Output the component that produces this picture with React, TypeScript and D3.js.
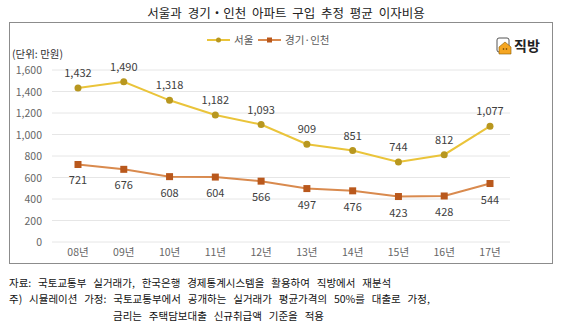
import React from "react";
import * as d3 from "d3";

const categories = ["08년", "09년", "10년", "11년", "12년", "13년", "14년", "15년", "16년", "17년"];
const seoul = [1432, 1490, 1318, 1182, 1093, 909, 851, 744, 812, 1077];
const gyeonggi = [721, 676, 608, 604, 566, 497, 476, 423, 428, 544];
const yTicks = [0, 200, 400, 600, 800, 1000, 1200, 1400, 1600];
const seriesNames = ["서울", "경기·인천"];

const FONT = "'Noto Sans CJK KR', 'Noto Sans', sans-serif";

export default function App() {
  const W = 567, H = 330;
  const x = d3.scalePoint<string>().domain(categories).range([78, 490]);
  const y = d3.scaleLinear().domain([0, 1600]).range([242, 70]);
  const line = d3.line<number>().x((_, i) => x(categories[i])!).y((d) => y(d));
  const fmt = d3.format(",");
  const seoulLine = "#EAC43A";
  const seoulMark = "#B8971F";
  const ggLine = "#D98A4E";
  const ggMark = "#B9581C";

  return (
    <svg width={W} height={H} style={{ position: "absolute", left: 0, top: 0, fontFamily: FONT }}>
      <rect x={0} y={0} width={W} height={H} fill="#fff" />
      <text x={286} y={18} textAnchor="middle" fontSize={12.5} fill="#222" style={{ wordSpacing: "3px" }}>
        서울과 경기・인천 아파트 구입 추정 평균 이자비용
      </text>
      <rect x={9.5} y={22.5} width={543} height={241} fill="#fff" stroke="#8c8c8c" strokeWidth={1} />

      {/* legend */}
      <line x1={207} x2={230} y1={40} y2={40} stroke={seoulLine} strokeWidth={2} />
      <circle cx={218.5} cy={40} r={2.5} fill={seoulMark} />
      <text x={234} y={44} fontSize={10.5} fill="#595959">{seriesNames[0]}</text>
      <line x1={258} x2={281} y1={40} y2={40} stroke={ggLine} strokeWidth={2} />
      <rect x={267} y={37.5} width={5} height={5} fill={ggMark} />
      <text x={285} y={44} fontSize={10.5} fill="#595959">{seriesNames[1]}</text>

      {/* logo */}
      <g transform="translate(497,38)">
        <rect x={0} y={0} width={12} height={14} rx={2} fill="#fff" stroke="#555" strokeWidth={1} />
        <path d="M2,9 L8,4 L14,9 L14,16 L2,16 Z" fill="#F5A623" stroke="#8a5a00" strokeWidth={0.6} />
        <circle cx={6.5} cy={11} r={0.8} fill="#5a3a00" />
        <circle cx={9.5} cy={11} r={0.8} fill="#5a3a00" />
      </g>
      <text x={514} y={51} fontSize={14} fontWeight="bold" fill="#222">직방</text>

      <text x={12} y={58} fontSize={10.5} fill="#333">(단위: 만원)</text>

      {/* grid */}
      {yTicks.map((t) => (
        <g key={t}>
          <line x1={52} x2={510} y1={y(t)} y2={y(t)} stroke="#e6e6e6" strokeWidth={1} />
          <text x={42} y={y(t) + 4} textAnchor="end" fontSize={10.5} fill="#666">{fmt(t)}</text>
        </g>
      ))}
      {categories.map((c) => (
        <text key={c} x={x(c)} y={256} textAnchor="middle" fontSize={10.5} fill="#666">{c}</text>
      ))}

      <path d={line(seoul)!} fill="none" stroke={seoulLine} strokeWidth={2} />
      <path d={line(gyeonggi)!} fill="none" stroke={ggLine} strokeWidth={2} />
      {seoul.map((v, i) => (
        <g key={"s" + i}>
          <circle cx={x(categories[i])} cy={y(v)} r={3.5} fill={seoulMark} />
          <text x={x(categories[i])} y={y(v) - 11} textAnchor="middle" fontSize={11} fill="#404040">{fmt(v)}</text>
        </g>
      ))}
      {gyeonggi.map((v, i) => (
        <g key={"g" + i}>
          <rect x={x(categories[i])! - 3.5} y={y(v) - 3.5} width={7} height={7} fill={ggMark} />
          <text x={x(categories[i])} y={y(v) + 20} textAnchor="middle" fontSize={11} fill="#404040">{fmt(v)}</text>
        </g>
      ))}

      {/* footer */}
      <g fontSize={10.5} fill="#111" style={{ wordSpacing: "4.5px" }}>
        <text x={9} y={287}>자료: 국토교통부 실거래가, 한국은행 경제통계시스템을 활용하여 직방에서 재분석</text>
        <text x={9} y={303}>주) 시뮬레이션 가정: 국토교통부에서 공개하는 실거래가 평균가격의 50%를 대출로 가정,</text>
        <text x={113} y={320}>금리는 주택담보대출 신규취급액 기준을 적용</text>
      </g>
    </svg>
  );
}
